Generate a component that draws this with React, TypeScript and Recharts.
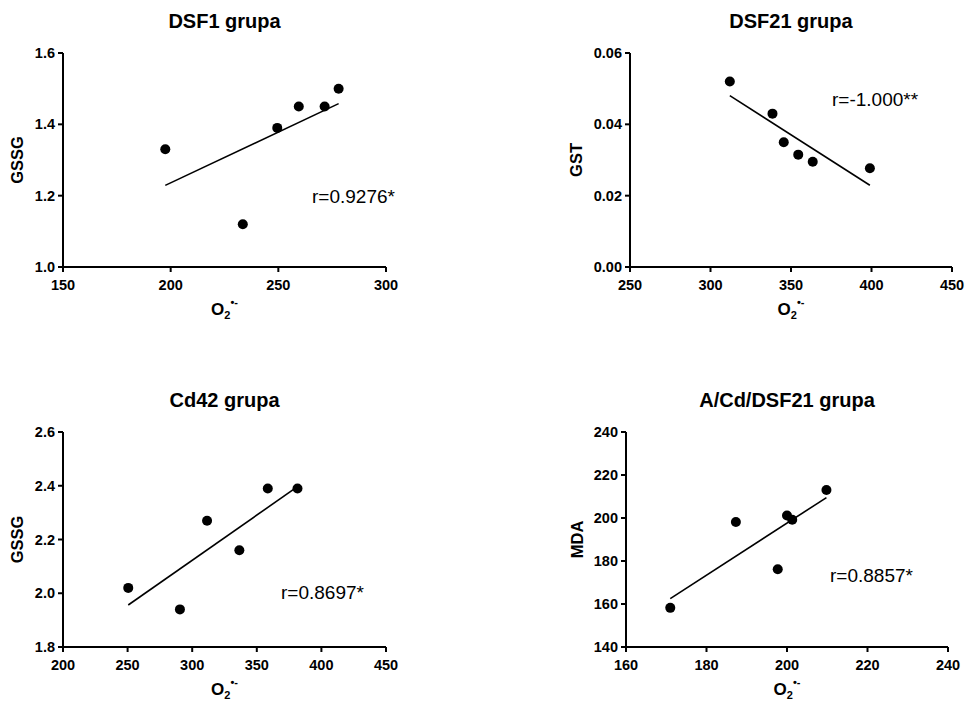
import { ScatterChart, Scatter, XAxis, YAxis, ReferenceLine } from 'recharts';

const FONT = "Arial, 'Liberation Sans', Helvetica, sans-serif";

// DSF1 grupa: O2•- vs GSSG
const dsf1O2 = [197.5, 233.5, 249.5, 259.5, 271.5, 278];
const dsf1Gssg = [1.33, 1.12, 1.39, 1.45, 1.45, 1.5];
const dsf1XTicks = [150, 200, 250, 300];
const dsf1YTicks = [1.0, 1.2, 1.4, 1.6];

// DSF21 grupa: O2•- vs GST
const dsf21O2 = [312, 338.5, 345.5, 354.5, 363.5, 399];
const dsf21Gst = [0.052, 0.043, 0.035, 0.0315, 0.0295, 0.0277];
const dsf21XTicks = [250, 300, 350, 400, 450];
const dsf21YTicks = [0, 0.02, 0.04, 0.06];

// Cd42 grupa: O2•- vs GSSG
const cd42O2 = [250.5, 290.5, 311.5, 336.5, 358.5, 381.5];
const cd42Gssg = [2.02, 1.94, 2.27, 2.16, 2.39, 2.39];
const cd42XTicks = [200, 250, 300, 350, 400, 450];
const cd42YTicks = [1.8, 2.0, 2.2, 2.4, 2.6];

// A/Cd/DSF21 grupa: O2•- vs MDA
const acdO2 = [171, 187.3, 197.7, 200, 201.3, 209.8];
const acdMda = [158.2, 198.1, 176.2, 201.2, 199.2, 213];
const acdXTicks = [160, 180, 200, 220, 240];
const acdYTicks = [140, 160, 180, 200, 220, 240];

const panels = [
  {
    title: 'DSF1 grupa', yLabel: 'GSSG', r: 'r=0.9276*',
    x: dsf1O2, y: dsf1Gssg, xTicks: dsf1XTicks, yTicks: dsf1YTicks, digits: 1,
    left: 63, top: 53, w: 323, h: 214,
    yLabelX: 23, rX: 312, rY: 203,
  },
  {
    title: 'DSF21 grupa', yLabel: 'GST', r: 'r=-1.000**',
    x: dsf21O2, y: dsf21Gst, xTicks: dsf21XTicks, yTicks: dsf21YTicks, digits: 2,
    left: 630, top: 53, w: 322, h: 214,
    yLabelX: 582, rX: 832, rY: 106,
  },
  {
    title: 'Cd42 grupa', yLabel: 'GSSG', r: 'r=0.8697*',
    x: cd42O2, y: cd42Gssg, xTicks: cd42XTicks, yTicks: cd42YTicks, digits: 1,
    left: 63, top: 432, w: 323, h: 215,
    yLabelX: 23, rX: 281, rY: 599,
  },
  {
    title: 'A/Cd/DSF21 grupa', yLabel: 'MDA', r: 'r=0.8857*',
    x: acdO2, y: acdMda, xTicks: acdXTicks, yTicks: acdYTicks, digits: 0,
    left: 626, top: 432, w: 322, h: 215,
    yLabelX: 583, rX: 830, rY: 582,
  },
];

const PAD_L = 60;
const PAD_T = 10;
const PAD_R = 20;
const PAD_B = 40;

// least-squares line through the points
function fit(xs: number[], ys: number[]) {
  const n = xs.length;
  const mx = xs.reduce((s, v) => s + v, 0) / n;
  const my = ys.reduce((s, v) => s + v, 0) / n;
  let sxy = 0;
  let sxx = 0;
  xs.forEach((x, i) => {
    sxy += (x - mx) * (ys[i] - my);
    sxx += (x - mx) * (x - mx);
  });
  const b = sxy / sxx;
  return { a: my - b * mx, b };
}

const Dot = (props: any) => <circle cx={props.cx} cy={props.cy} r={5} fill="#000" />;

const axisStroke = { stroke: '#000', strokeWidth: 2 };

// bold tick labels; x ticks hang below the axis, y ticks sit to its left
function XTick({ x, y, payload }: any) {
  return (
    <text x={x} y={y} dy="0.71em" textAnchor="middle" fill="#000"
      fontSize={14.5} fontWeight="bold" fontFamily={FONT}>
      {payload.value}
    </text>
  );
}

function makeYTick(digits: number) {
  return ({ x, y, payload }: any) => (
    <text x={x} y={y} dy="0.355em" textAnchor="end" fill="#000"
      fontSize={14.5} fontWeight="bold" fontFamily={FONT}>
      {Number(payload.value).toFixed(digits)}
    </text>
  );
}

function Panel({ p }: { p: (typeof panels)[number] }) {
  const pts = p.x.map((x, i) => ({ x, y: p.y[i] }));
  const { a, b } = fit(p.x, p.y);
  const x0 = Math.min(...p.x);
  const x1 = Math.max(...p.x);
  const xDom = [p.xTicks[0], p.xTicks[p.xTicks.length - 1]];
  const yDom = [p.yTicks[0], p.yTicks[p.yTicks.length - 1]];
  return (
    <div style={{ position: 'absolute', left: p.left - PAD_L, top: p.top - PAD_T }}>
      <ScatterChart
        width={p.w + PAD_L + PAD_R}
        height={p.h + PAD_T + PAD_B}
        margin={{ top: PAD_T, right: PAD_R, left: 0, bottom: 0 }}
      >
        <XAxis
          type="number"
          dataKey="x"
          domain={xDom}
          ticks={p.xTicks}
          interval={0}
          height={PAD_B}
          tick={<XTick />}
          tickSize={5}
          tickMargin={8}
          axisLine={axisStroke}
          tickLine={axisStroke}
        />
        <YAxis
          type="number"
          dataKey="y"
          domain={yDom}
          ticks={p.yTicks}
          interval={0}
          width={PAD_L}
          tick={makeYTick(p.digits)}
          tickSize={5}
          tickMargin={3}
          axisLine={axisStroke}
          tickLine={axisStroke}
        />
        <ReferenceLine
          segment={[{ x: x0, y: a + b * x0 }, { x: x1, y: a + b * x1 }]}
          stroke="#000"
          strokeWidth={1.6}
        />
        <Scatter data={pts} fill="#000" shape={Dot} isAnimationActive={false} />
      </ScatterChart>
    </div>
  );
}

export default function App() {
  return (
    <div
      style={{
        position: 'absolute', left: 0, top: 0, width: 966, height: 704,
        overflow: 'hidden', background: '#fff',
      }}
    >
      {panels.map((p) => (
        <Panel key={p.title} p={p} />
      ))}
      <svg
        width={966}
        height={704}
        style={{ position: 'absolute', left: 0, top: 0, pointerEvents: 'none' }}
        fontFamily={FONT}
      >
        {panels.map((p) => {
          const cx = p.left + p.w / 2;
          const cy = p.top + p.h / 2;
          const bottom = p.top + p.h;
          return (
            <g key={p.title}>
              <text x={cx} y={p.top - 25} textAnchor="middle" fontSize={20} fontWeight="bold">
                {p.title}
              </text>
              <text
                transform={`translate(${p.yLabelX}, ${cy}) rotate(-90)`}
                textAnchor="middle"
                fontSize={16.5}
                fontWeight="bold"
              >
                {p.yLabel}
              </text>
              <text x={cx} y={bottom + 48} textAnchor="middle" fontSize={17} fontWeight="bold">
                O
                <tspan fontSize={11} dy={4}>2</tspan>
                <tspan fontSize={11} dy={-13}>•-</tspan>
              </text>
              <text x={p.rX} y={p.rY} fontSize={19}>
                {p.r}
              </text>
            </g>
          );
        })}
      </svg>
    </div>
  );
}
